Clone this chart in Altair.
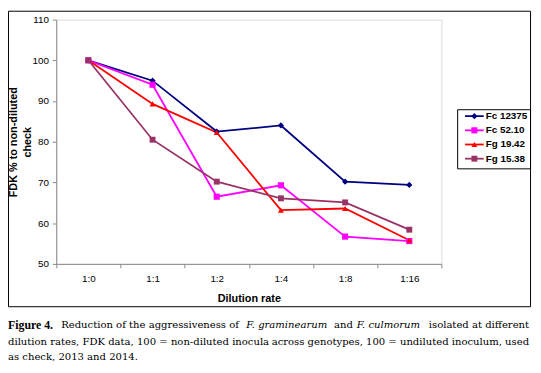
import altair as alt
import pandas as pd

rates = ["1:0", "1:1", "1:2", "1:4", "1:8", "1:16"]
series_names = ["Fc 12375", "Fc 52.10", "Fg 19.42", "Fg 15.38"]
fc12375 = [100, 95.0, 82.5, 84.0, 70.2, 69.4]
fc5210 = [100, 94.0, 66.5, 69.3, 56.7, 55.6]
fg1942 = [100, 89.3, 82.3, 63.2, 63.6, 55.8]
fg1538 = [100, 80.5, 70.2, 66.1, 65.1, 58.4]
colors = ["#000080", "#FF00FF", "#FF0000", "#993366"]
shapes = ["diamond", "square", "triangle-up", "square"]
sizes = [40, 36, 50, 110]

rows = []
for name, vals in zip(series_names, [fc12375, fc5210, fg1942, fg1538]):
    for r, v in zip(rates, vals):
        rows.append({"series": name, "rate": r, "value": v})
df = pd.DataFrame(rows)
leg = pd.DataFrame({"series": series_names, "idx": list(range(len(series_names)))})

W, H = 391, 248
color = alt.Color("series:N", scale=alt.Scale(domain=series_names, range=colors), legend=None)
shape = alt.Shape("series:N", scale=alt.Scale(domain=series_names, range=shapes), legend=None)
size = alt.Size("series:N", scale=alt.Scale(domain=series_names, range=sizes), legend=None)

x = alt.X("rate:O", sort=rates,
          scale=alt.Scale(type="band", domain=rates, paddingInner=0, paddingOuter=0),
          axis=alt.Axis(title="Dilution rate", labelAngle=0, tickBand="extent",
                        labelPadding=6, tickSize=4, titlePadding=9))
y = alt.Y("value:Q", scale=alt.Scale(domain=[50, 110], nice=False, zero=False),
          axis=alt.Axis(values=[50, 60, 70, 80, 90, 100, 110], title=["FDK % to non-diluted", "check"],
                        tickSize=4, labelPadding=4, grid=False,
                        titleX=-43, titleY=124, titleAngle=-90, titleAlign="center",
                        titleBaseline="middle", titleLineHeight=14))

base = alt.Chart(df).transform_calculate(rate_idx="indexof(%s, datum.rate)" % str(rates))
lines = base.mark_line(strokeWidth=1.8).encode(x=x, y=y, color=color, order=alt.Order("rate_idx:Q"))
points = base.mark_point(filled=True, opacity=1).encode(x=x, y=y, color=color, shape=shape, size=size)


def box_edges(x0, y0, x1, y1):
    return [(x0, y0, x1, y0), (x0, y1, x1, y1), (x0, y0, x0, y1), (x1, y0, x1, y1)]


edges = box_edges(-48.5, -8.5, 481.5, 291.5) + box_edges(407.5, 91.5, 481.5, 151.5)
edf = pd.DataFrame(edges, columns=["ex", "ey", "ex2", "ey2"])
frames = alt.Chart(edf).mark_rule(color="black", strokeWidth=1).encode(
    x=alt.X("ex:Q", scale=None), y=alt.Y("ey:Q", scale=None),
    x2="ex2:Q", y2="ey2:Q")

lb = alt.Chart(leg).transform_calculate(ly="98 + datum.idx * 14.4")
leg_lines = lb.mark_rule(strokeWidth=1.8).encode(
    x=alt.value(415), x2=alt.value(434), y=alt.Y("ly:Q", scale=None), color=color)
leg_pts = lb.mark_point(filled=True, opacity=1).encode(
    x=alt.value(424.5), y=alt.Y("ly:Q", scale=None), color=color, shape=shape, size=size)
leg_txt = lb.mark_text(align="left", baseline="middle", font="Liberation Sans", fontWeight="bold",
                       fontSize=10, color="black").encode(
    x=alt.value(436), y=alt.Y("ly:Q", scale=None), text="series:N")

SERIF = "DejaVu Serif"
FS = 10.2
one = pd.DataFrame({"a": [0]})


def cap(text, xpos, ypos, style="normal", weight="normal", align="left", font=SERIF, fs=FS):
    return alt.Chart(one).mark_text(align=align, baseline="middle", font=font, fontSize=fs,
                                    fontStyle=style, fontWeight=weight, color="black").encode(
        x=alt.value(xpos), y=alt.value(ypos), text=alt.value(text))


ox = -57
l1, l2, l3 = 310.5, 327, 342.5
caps = [
    cap("Figure 4.", 8 + ox, l1, weight="bold", font="Liberation Serif", fs=12),
    cap("Reduction of the aggressiveness of", 62 + ox, l1),
    cap("F. graminearum", 250 + ox, l1, style="italic"),
    cap("and", 339 + ox, l1),
    cap("F. culmorum", 362 + ox, l1, style="italic"),
    cap("isolated at different", 537 + ox, l1, align="right"),
    cap("dilution rates, FDK data, 100 = non-diluted inocula", 8 + ox, l2),
    cap("across genotypes, 100 = undiluted inoculum, used", 537 + ox, l2, align="right"),
    cap("as check, 2013 and 2014.", 8 + ox, l3),
]

chart = alt.layer(frames, lines, points, leg_lines, leg_pts, leg_txt, *caps).properties(
    width=W, height=H,
    autosize=alt.AutoSizeParams(type="none"),
    padding={"left": 49, "top": 9, "right": 93, "bottom": 108},
).configure_view(stroke="#a0a0a0", strokeWidth=1).configure_axis(
    domainColor="black", tickColor="black", labelFont="Liberation Sans", labelFontWeight="bold",
    labelFontSize=10, labelColor="black", titleFont="Liberation Sans", titleFontWeight="bold",
    titleFontSize=10.5, titleColor="black"
).configure(background="white")

chart.save("out.html", embed_options={"renderer": "svg", "actions": False})
